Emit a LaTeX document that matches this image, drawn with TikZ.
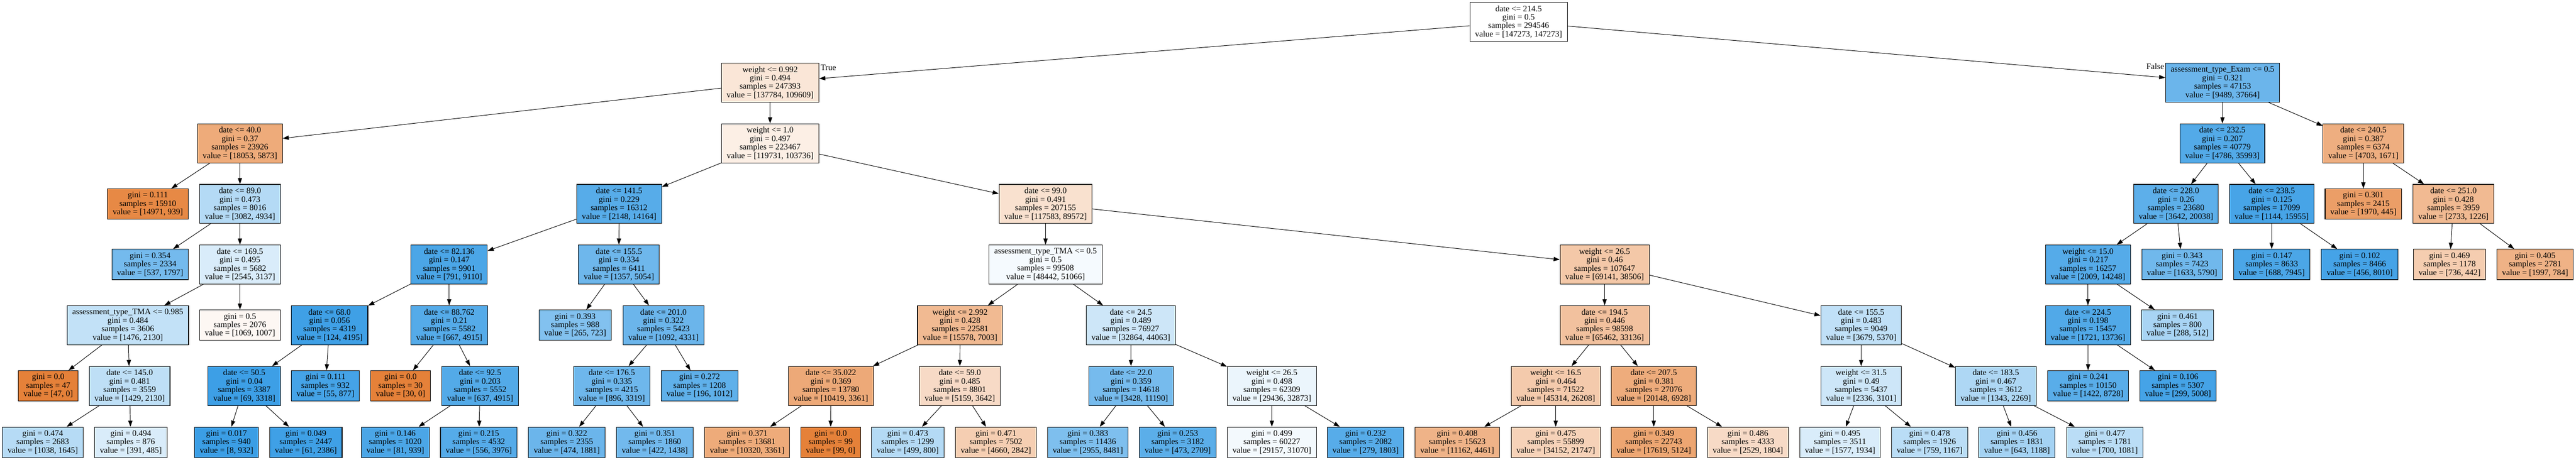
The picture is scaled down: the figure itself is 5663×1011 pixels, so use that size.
\documentclass[tikz,border=0pt]{standalone}
\usepackage{fontspec}
\setmainfont{Liberation Serif}
\usetikzlibrary{arrows.meta}
\definecolor{cO}{RGB}{229,129,57}
\definecolor{cB}{RGB}{57,157,229}
\newcommand\tf{\fontsize{18.4}{18.6}\selectfont}
\tikzset{
  box/.style={draw=black, line width=1.2pt, rectangle, align=center, inner xsep=11.5pt, inner ysep=0pt, font=\tf},
  bfour/.style={box, minimum height=86pt},
  bthree/.style={box, minimum height=67pt},
  edge/.style={-{Triangle[length=13.5pt,width=9.3pt]}, line width=1.1pt},
  lbl/.style={font=\tf, inner sep=0pt}
}
\newcommand\IN[8]{\node[bfour,fill=#4] (#1) at (#2,#3) {#5\\gini = #6\\samples = #7\\value = [#8]};}
\newcommand\LF[7]{\node[bthree,fill=#4] (#1) at (#2,#3) {gini = #5\\samples = #6\\value = [#7]};}
\begin{document}
\begin{tikzpicture}[x=1pt,y=-1pt]
\useasboundingbox (0,0) rectangle (5663,1011);
% L0
\IN{r}{3338.5}{48}{white}{date <= 214.5}{0.5}{294546}{147273, 147273}
% L1
\IN{a}{1693}{181.5}{cO!20!white}{weight <= 0.992}{0.494}{247393}{137784, 109609}
\IN{b}{4886}{181.5}{cB!75!white}{assessment\_type\_Exam <= 0.5}{0.321}{47153}{9489, 37664}
% L2
\IN{aa}{527.5}{315}{cO!67!white}{date <= 40.0}{0.37}{23926}{18053, 5873}
\IN{ab}{1693}{315}{cO!13!white}{weight <= 1.0}{0.497}{223467}{119731, 103736}
\IN{ba}{4885.5}{315}{cB!87!white}{date <= 232.5}{0.207}{40779}{4786, 35993}
\IN{bb}{5195.5}{315}{cO!64!white}{date <= 240.5}{0.387}{6374}{4703, 1671}
% L3
\LF{aaa}{325}{448.5}{cO!94!white}{0.111}{15910}{14971, 939}
\IN{aab}{527.5}{448.5}{cB!38!white}{date <= 89.0}{0.473}{8016}{3082, 4934}
\IN{aba}{1361}{448.5}{cB!85!white}{date <= 141.5}{0.229}{16312}{2148, 14164}
\IN{abb}{2298.5}{448.5}{cO!24!white}{date <= 99.0}{0.491}{207155}{117583, 89572}
\IN{baa}{4783.5}{448.5}{cB!82!white}{date <= 228.0}{0.26}{23680}{3642, 20038}
\IN{bab}{4994}{448.5}{cB!93!white}{date <= 238.5}{0.125}{17099}{1144, 15955}
\LF{bba}{5195.5}{448.5}{cO!77!white}{0.301}{2415}{1970, 445}
\IN{bbb}{5393.5}{448.5}{cO!55!white}{date <= 251.0}{0.428}{3959}{2733, 1226}
% L4
\LF{aaba}{330}{581.5}{cB!70!white}{0.354}{2334}{537, 1797}
\IN{aabb}{527.5}{581.5}{cB!19!white}{date <= 169.5}{0.495}{5682}{2545, 3137}
\IN{abaa}{987.5}{581.5}{cB!91!white}{date <= 82.136}{0.147}{9901}{791, 9110}
\IN{abab}{1360.5}{581.5}{cB!73!white}{date <= 155.5}{0.334}{6411}{1357, 5054}
\IN{abba}{2298.5}{581.5}{cB!5!white}{assessment\_type\_TMA <= 0.5}{0.5}{99508}{48442, 51066}
\IN{abbb}{3527.5}{581.5}{cO!44!white}{weight <= 26.5}{0.46}{107647}{69141, 38506}
\IN{baaa}{4590}{581.5}{cB!86!white}{weight <= 15.0}{0.217}{16257}{2009, 14248}
\LF{baab}{4797}{581.5}{cB!72!white}{0.343}{7423}{1633, 5790}
\LF{baba}{4994}{581.5}{cB!91!white}{0.147}{8633}{688, 7945}
\LF{babb}{5187.5}{581.5}{cB!94!white}{0.102}{8466}{456, 8010}
\LF{bbba}{5385}{581.5}{cO!40!white}{0.469}{1178}{736, 442}
\LF{bbbb}{5573}{581.5}{cO!61!white}{0.405}{2781}{1997, 784}
% L5
\IN{aabba}{281}{715}{cB!31!white}{assessment\_type\_TMA <= 0.985}{0.484}{3606}{1476, 2130}
\LF{aabbb}{527.5}{715}{cO!6!white}{0.5}{2076}{1069, 1007}
\IN{abaaa}{724.5}{715}{cB!97!white}{date <= 68.0}{0.056}{4319}{124, 4195}
\IN{abaab}{987.5}{715}{cB!86!white}{date <= 88.762}{0.21}{5582}{667, 4915}
\LF{ababa}{1264.5}{715}{cB!63!white}{0.393}{988}{265, 723}
\IN{ababb}{1458.5}{715}{cB!75!white}{date <= 201.0}{0.322}{5423}{1092, 4331}
\IN{abbaa}{2110.5}{715}{cO!55!white}{weight <= 2.992}{0.428}{22581}{15578, 7003}
\IN{abbab}{2486}{715}{cB!25!white}{date <= 24.5}{0.489}{76927}{32864, 44063}
\IN{abbba}{3527.5}{715}{cO!49!white}{date <= 194.5}{0.446}{98598}{65462, 33136}
\IN{abbbb}{4091.5}{715}{cB!32!white}{date <= 155.5}{0.483}{9049}{3679, 5370}
\IN{baaaa}{4590}{715}{cB!88!white}{date <= 224.5}{0.198}{15457}{1721, 13736}
\LF{baaab}{4787}{715}{cB!44!white}{0.461}{800}{288, 512}
% L6
\LF{g1}{106}{848.5}{cO}{0.0}{47}{47, 0}
\IN{g2}{285}{848.5}{cB!33!white}{date <= 145.0}{0.481}{3559}{1429, 2130}
\IN{g3}{537}{848.5}{cB!98!white}{date <= 50.5}{0.04}{3387}{69, 3318}
\LF{g4}{715.5}{848.5}{cB!94!white}{0.111}{932}{55, 877}
\LF{g5}{880.5}{848.5}{cO}{0.0}{30}{30, 0}
\IN{g6}{1055.5}{848.5}{cB!87!white}{date <= 92.5}{0.203}{5552}{637, 4915}
\IN{g7}{1345}{848.5}{cB!73!white}{date <= 176.5}{0.335}{4215}{896, 3319}
\LF{g8}{1538}{848.5}{cB!81!white}{0.272}{1208}{196, 1012}
\IN{g9}{1826.5}{848.5}{cO!68!white}{date <= 35.022}{0.369}{13780}{10419, 3361}
\IN{g10}{2110}{848.5}{cO!29!white}{date <= 59.0}{0.485}{8801}{5159, 3642}
\IN{g11}{2486.5}{848.5}{cB!69!white}{date <= 22.0}{0.359}{14618}{3428, 11190}
\IN{g12}{2796}{848.5}{cB!10!white}{weight <= 26.5}{0.498}{62309}{29436, 32873}
\IN{g13}{3420}{848.5}{cO!42!white}{weight <= 16.5}{0.464}{71522}{45314, 26208}
\IN{g14}{3635.5}{848.5}{cO!66!white}{date <= 207.5}{0.381}{27076}{20148, 6928}
\IN{g15}{4091.5}{848.5}{cB!25!white}{weight <= 31.5}{0.49}{5437}{2336, 3101}
\IN{g16}{4387.5}{848.5}{cB!41!white}{date <= 183.5}{0.467}{3612}{1343, 2269}
\LF{g17}{4590.5}{848.5}{cB!84!white}{0.241}{10150}{1422, 8728}
\LF{g18}{4788}{848.5}{cB!94!white}{0.106}{5307}{299, 5008}
% L7
\LF{h1}{94}{972.5}{cB!37!white}{0.474}{2683}{1038, 1645}
\LF{h2}{287.5}{972.5}{cB!19!white}{0.494}{876}{391, 485}
\LF{h3}{498}{972.5}{cB!99!white}{0.017}{940}{8, 932}
\LF{h4}{672.5}{972.5}{cB!97!white}{0.049}{2447}{61, 2386}
\LF{h5}{869}{972.5}{cB!91!white}{0.146}{1020}{81, 939}
\LF{h6}{1052.5}{972.5}{cB!86!white}{0.215}{4532}{556, 3976}
\LF{h7}{1246}{972.5}{cB!75!white}{0.322}{2355}{474, 1881}
\LF{h8}{1439.5}{972.5}{cB!71!white}{0.351}{1860}{422, 1438}
\LF{h9}{1642.5}{972.5}{cO!67!white}{0.371}{13681}{10320, 3361}
\LF{h10}{1826}{972.5}{cO}{0.0}{99}{99, 0}
\LF{h11}{1995.5}{972.5}{cB!38!white}{0.473}{1299}{499, 800}
\LF{h12}{2189.5}{972.5}{cO!39!white}{0.471}{7502}{4660, 2842}
\LF{h13}{2391.5}{972.5}{cB!65!white}{0.383}{11436}{2955, 8481}
\LF{h14}{2589}{972.5}{cB!83!white}{0.253}{3182}{473, 2709}
\LF{h15}{2796}{972.5}{cB!6!white}{0.499}{60227}{29157, 31070}
\LF{h16}{3002}{972.5}{cB!85!white}{0.232}{2082}{279, 1803}
\LF{h17}{3203.5}{972.5}{cO!60!white}{0.408}{15623}{11162, 4461}
\LF{h18}{3420}{972.5}{cO!36!white}{0.475}{55899}{34152, 21747}
\LF{h19}{3635.5}{972.5}{cO!71!white}{0.349}{22743}{17619, 5124}
\LF{h20}{3842.5}{972.5}{cO!29!white}{0.486}{4333}{2529, 1804}
\LF{h21}{4045}{972.5}{cB!19!white}{0.495}{3511}{1577, 1934}
\LF{h22}{4242}{972.5}{cB!35!white}{0.478}{1926}{759, 1167}
\LF{h23}{4434}{972.5}{cB!46!white}{0.456}{1831}{643, 1188}
\LF{h24}{4627}{972.5}{cB!35!white}{0.477}{1781}{700, 1081}
% labels
\node[lbl] (tl) at (1821,148.5) {True};
\node[lbl] (fl) at (4738,145.5) {False};
% edges
\foreach \p/\c in {r/a,r/b,a/aa,a/ab,b/ba,b/bb,aa/aaa,aa/aab,ab/aba,ab/abb,ba/baa,ba/bab,bb/bba,bb/bbb,
  aab/aaba,aab/aabb,aba/abaa,aba/abab,abb/abba,abb/abbb,baa/baaa,baa/baab,bab/baba,bab/babb,bbb/bbba,bbb/bbbb,
  aabb/aabba,aabb/aabbb,abaa/abaaa,abaa/abaab,abab/ababa,abab/ababb,abba/abbaa,abba/abbab,abbb/abbba,abbb/abbbb,baaa/baaaa,baaa/baaab,
  aabba/g1,aabba/g2,abaaa/g3,abaaa/g4,abaab/g5,abaab/g6,ababb/g7,ababb/g8,abbaa/g9,abbaa/g10,abbab/g11,abbab/g12,abbba/g13,abbba/g14,abbbb/g15,abbbb/g16,baaaa/g17,baaaa/g18,
  g2/h1,g2/h2,g3/h3,g3/h4,g6/h5,g6/h6,g7/h7,g7/h8,g9/h9,g9/h10,g10/h11,g10/h12,g11/h13,g11/h14,g12/h15,g12/h16,g13/h17,g13/h18,g14/h19,g14/h20,g15/h21,g15/h22,g16/h23,g16/h24}
  \draw[edge] (\p) -- (\c);
\end{tikzpicture}
\end{document}
